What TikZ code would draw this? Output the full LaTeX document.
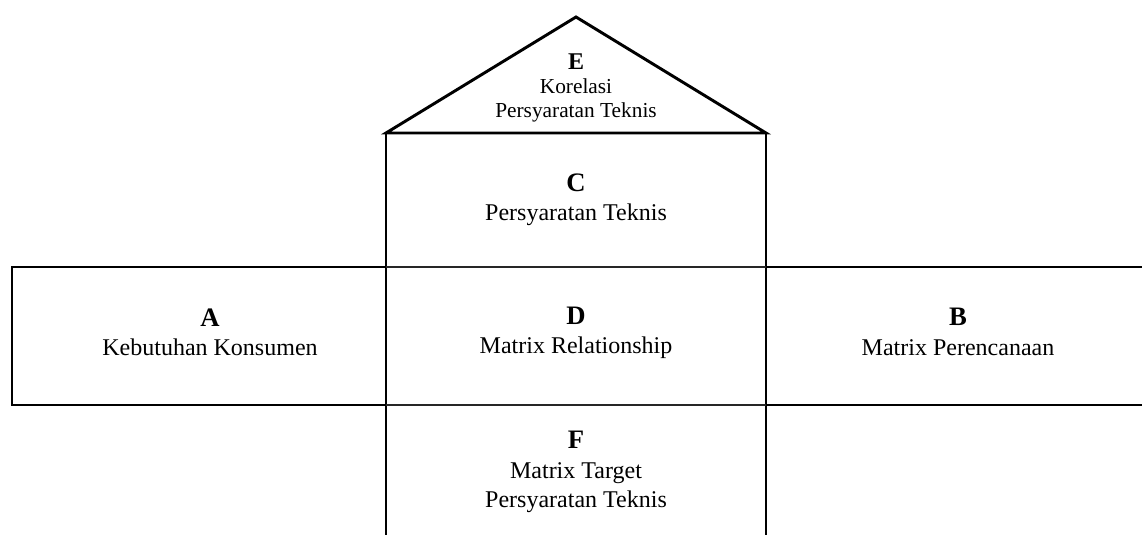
\documentclass[tikz,border=0pt]{standalone}
\usepackage{fontspec}
\setmainfont{Liberation Serif}
\usetikzlibrary{calc}

\tikzset{
  wall/.style={black,line width=2.2pt},
  seam/.style={black!85,line width=0.9pt},
  part/.style={align=center,font=\fontsize{18}{22}\selectfont},
  roofpart/.style={align=center,font=\fontsize{16}{18}\selectfont}
}
\newcommand{\partletter}[1]{{\fontsize{20}{24}\selectfont\bfseries #1}}
\newcommand{\roofletter}[1]{{\fontsize{18}{20}\selectfont\bfseries #1}}

\begin{document}
\begin{tikzpicture}[x=0.75pt,y=-0.75pt]
\useasboundingbox (0,0) rectangle (1142,535);

% house outline
\coordinate (Top) at (576,17);
\coordinate (RoofL) at (386,133);
\coordinate (RoofR) at (766,133);
\coordinate (MidL) at (386,267);
\coordinate (MidR) at (766,267);
\coordinate (LowL) at (386,405);
\coordinate (LowR) at (766,405);
\coordinate (FootL) at (386,535);
\coordinate (FootR) at (766,535);

\draw[wall] (RoofL) -- (Top) -- (RoofR) -- cycle;
\draw[wall] (RoofL) -- (FootL);
\draw[wall] (RoofR) -- (FootR);
\draw[seam] (MidL) -- (MidR);
\draw[seam] (LowL) -- (LowR);

% side rooms
\draw[wall] (MidL) -- (12,267) -- (12,405) -- (LowL);
\draw[wall] (MidR) -- (1142,267);
\draw[wall] (LowR) -- (1142,405);

\node[roofpart] (E) at (576,88) {\roofletter{E}\\Korelasi\\Persyaratan Teknis};
\node[part] (C) at (576,200) {\partletter{C}\\Persyaratan Teknis};
\node[part] (D) at (576,333) {\partletter{D}\\Matrix Relationship};
\node[part] (A) at (210,332) {\partletter{A}\\Kebutuhan Konsumen};
\node[part] (B) at (958,332) {\partletter{B}\\Matrix Perencanaan};
\node[part] (F) at (576,472) {\partletter{F}\\Matrix Target\\Persyaratan Teknis};

\end{tikzpicture}
\end{document}
